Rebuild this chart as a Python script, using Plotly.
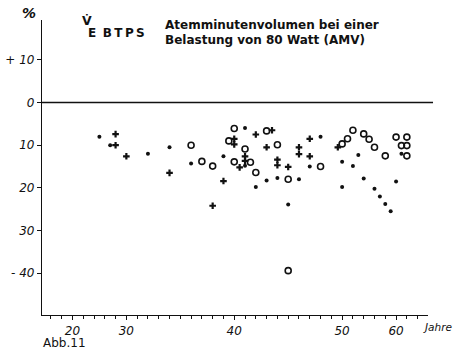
import plotly.graph_objects as go

# Ages (Jahre) and change of minute ventilation (%) per subject group
dot_age = [25, 27, 32, 34, 36, 39, 41, 41, 42, 43, 44, 45, 46, 47, 48,
           50, 50, 52, 53, 54, 56, 57, 58, 59, 60, 61]
dot_val = [-8.0, -10.0, -12.0, -10.5, -14.3, -12.6, -6.0, -14.8, -19.8, -18.3,
           -17.7, -23.9, -18.0, -15.0, -8.0, -13.9, -19.8, -14.9, -12.3, -17.8,
           -20.2, -22.0, -23.8, -25.5, -18.5, -12.0]

plus_age = [28, 28, 30, 34, 38, 39, 40, 40, 40.5, 41, 41, 42, 43, 43.5, 44,
            44, 45, 46, 46, 47, 47, 49.6]
plus_val = [-7.4, -10.0, -12.6, -16.5, -24.2, -18.4, -8.5, -9.8, -15.2, -12.6,
            -13.7, -7.5, -10.5, -6.5, -13.4, -14.7, -15.1, -10.5, -12.1, -8.5,
            -12.6, -10.5]

ring_age = [36, 37, 38, 39.5, 40, 40, 41, 41.5, 42, 43, 44, 45, 45, 48, 50,
            51, 52, 54, 55, 56, 58, 60, 61, 62, 62, 62]
ring_val = [-10.0, -13.8, -14.9, -9.0, -6.1, -13.9, -10.9, -14.0, -16.4, -6.65,
            -9.9, -18.0, -39.4, -15.0, -9.7, -8.5, -6.5, -7.35, -8.6, -10.5,
            -12.5, -8.1, -10.1, -8.1, -10.1, -12.5]

age_labels = [20, 30, 40, 50, 60]
y_ticks = [10, 0, -10, -20, -30, -40]
y_text = ["+ 10", "0", "10", "20", "30", "- 40"]


def age_pos(a):
    """Age axis: one tick per year from 30 to 50, one tick per two years outside."""
    if a < 30:
        return 30 - (30 - a) / 2
    if a > 50:
        return 50 + (a - 50) / 2
    return a


def pos_list(ages):
    return [age_pos(a) for a in ages]


ink = "#111111"
fig = go.Figure()

fig.add_trace(go.Scatter(
    x=pos_list(dot_age), y=dot_val, mode="markers",
    marker=dict(symbol="circle", size=4, color=ink, line=dict(width=0)),
    showlegend=False, hoverinfo="skip"))
fig.add_trace(go.Scatter(
    x=pos_list(plus_age), y=plus_val, mode="markers",
    marker=dict(symbol="cross", size=5.5, color=ink, line=dict(width=0)),
    showlegend=False, hoverinfo="skip"))
fig.add_trace(go.Scatter(
    x=pos_list(ring_age), y=ring_val, mode="markers",
    marker=dict(symbol="circle-open", size=6, color=ink, line=dict(width=1.6)),
    showlegend=False, hoverinfo="skip"))

# 0 % reference line
fig.add_shape(type="line", xref="paper", yref="y", x0=0, x1=1.013, y0=0, y1=0,
              line=dict(color=ink, width=1.6))

tick_font = dict(family="DejaVu Sans", size=12, color=ink, style="italic")
text_font = dict(family="DejaVu Sans", size=12, color=ink, weight="bold")

fig.update_xaxes(
    range=[22.18, 57.96], showgrid=False, zeroline=False, automargin=False,
    showline=True, linecolor=ink, linewidth=1.3,
    tickmode="array", tickvals=[age_pos(a) for a in age_labels],
    ticktext=[str(a) for a in age_labels],
    ticks="outside", ticklen=4, tickwidth=1, tickcolor=ink,
    tickfont=tick_font,
    minor=dict(tickvals=list(range(23, 58)), ticks="outside", ticklen=3,
               tickwidth=1, tickcolor=ink),
)
fig.update_yaxes(
    range=[-49.8, 19.34], showgrid=False, zeroline=False, automargin=False,
    showline=True, linecolor=ink, linewidth=1.3,
    tickmode="array", tickvals=y_ticks, ticktext=y_text,
    ticks="outside", ticklen=4, tickwidth=1, tickcolor=ink,
    tickfont=tick_font,
)

thin = "\u2009"
annotations = [
    dict(text="%", x=28, y=13, font=dict(family="DejaVu Sans", size=14,
                                         color=ink, weight="bold", style="italic")),
    dict(text="V\u0307", x=87, y=21, font=dict(family="DejaVu Sans", size=12.5,
                                              color=ink, weight="bold")),
    dict(text="E" + thin + " " + thin.join("BTPS"), x=86, y=33, xanchor="left",
         font=dict(family="DejaVu Sans", size=12, color=ink, weight="bold")),
    dict(text="Atemminutenvolumen bei einer", x=163, y=25, xanchor="left", font=text_font),
    dict(text="Belastung von 80 Watt (AMV)", x=163, y=40, xanchor="left", font=text_font),
    dict(text="Jahre", x=438, y=327, font=dict(family="DejaVu Sans", size=10.5,
                                               color=ink, style="italic")),
    dict(text="Abb.11", x=40, y=343, xanchor="left", font=dict(family="DejaVu Sans",
                                                            size=12, color=ink)),
]
for a in annotations:
    a.setdefault("xanchor", "center")
    # pixel position converted to paper coordinates of the 460x352 canvas
    fig.add_annotation(
        text=a["text"], xref="paper", yref="paper",
        x=(a["x"] - 41.5) / (428 - 41.5), y=(315.3 - a["y"]) / (315.3 - 20),
        xanchor=a["xanchor"], yanchor="middle", showarrow=False, font=a["font"])

fig.update_layout(
    width=460, height=352,
    margin=dict(l=41.5, r=32, t=20, b=36.7),
    paper_bgcolor="white", plot_bgcolor="white",
)

fig.write_html("out.html", config={"displayModeBar": False})
